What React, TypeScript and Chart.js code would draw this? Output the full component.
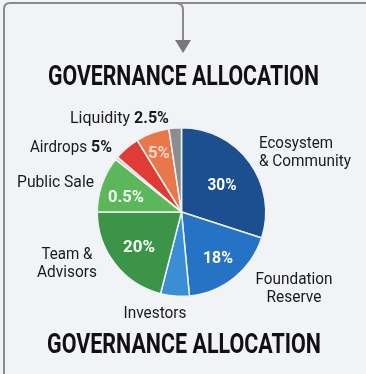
import React, { useEffect, useRef } from "react";
import { Chart, registerables } from "chart.js";

Chart.register(...registerables);

const categories = [
  "Ecosystem & Community",
  "Foundation Reserve",
  "Investors",
  "Team & Advisors",
  "Public Sale",
  "Other",
  "Airdrops",
  "Marketing",
  "Liquidity",
];
const shares = [30, 18.5, 5.5, 21, 10.7, 0.6, 4.9, 6.4, 2.4];
const sliceColors = [
  "#1b4f8f",
  "#2672c5",
  "#3a8fd4",
  "#3b9447",
  "#5bb75a",
  "#f2c7bd",
  "#e03b35",
  "#e8784a",
  "#8d8d8d",
];
const titleText = "GOVERNANCE ALLOCATION";

// outer labels: [regular part, bold part]
const outerLabels = [
  { parts: [["Liquidity", 60], ["2.5%", 35]], x: 70, y: 123, align: "left" },
  { parts: [["Airdrops", 57], ["5%", 21]], x: 30, y: 152, align: "left" },
  { parts: [["Ecosystem", 74]], x: 259, y: 148, align: "left" },
  { parts: [["& Community", 92]], x: 259, y: 166, align: "left" },
  { parts: [["Public Sale", 77]], x: 17, y: 187, align: "left" },
  { parts: [["Team &", 51]], x: 67, y: 259, align: "center" },
  { parts: [["Advisors", 60]], x: 67, y: 277, align: "center" },
  { parts: [["Foundation", 77]], x: 294, y: 284, align: "center" },
  { parts: [["Reserve", 55]], x: 294, y: 302, align: "center" },
  { parts: [["Investors", 63]], x: 155, y: 318, align: "center" },
];
const innerLabels = [
  { text: "30%", w: 29, x: 222, y: 190, color: "#ffffff" },
  { text: "18%", w: 30, x: 218, y: 263, color: "#ffffff" },
  { text: "20%", w: 32, x: 139, y: 252, color: "#f4fff4" },
  { text: "0.5%", w: 36, x: 126, y: 202, color: "#f4fff4" },
  { text: "5%", w: 22, x: 159, y: 158, color: "rgba(255,235,225,0.85)" },
];

function fitText(ctx: CanvasRenderingContext2D, text: string, x: number, y: number, font: string, w: number, align: string, color: string) {
  ctx.save();
  ctx.font = font;
  ctx.fillStyle = color;
  ctx.textBaseline = "alphabetic";
  ctx.textAlign = "left";
  const mw = ctx.measureText(text).width;
  const s = w / mw;
  let left = x;
  if (align === "center") left = x - w / 2;
  ctx.translate(left, y);
  ctx.scale(s, 1);
  ctx.fillText(text, 0, 0);
  ctx.restore();
}

const framePlugin = {
  id: "frame",
  beforeDraw(chart: any) {
    const ctx = chart.ctx as CanvasRenderingContext2D;
    ctx.save();
    ctx.fillStyle = "#f1f3f6";
    ctx.fillRect(0, 0, chart.width, chart.height);
    ctx.strokeStyle = "#8a8a8a";
    ctx.lineWidth = 2;
    ctx.beginPath();
    ctx.moveTo(4, chart.height);
    ctx.lineTo(4, 9);
    ctx.quadraticCurveTo(4, 3, 10, 3);
    ctx.lineTo(chart.width, 3);
    ctx.stroke();
    ctx.beginPath();
    ctx.moveTo(176, 3);
    ctx.quadraticCurveTo(183, 3, 183, 10);
    ctx.lineTo(183, 42);
    ctx.stroke();
    ctx.fillStyle = "#787878";
    ctx.beginPath();
    ctx.moveTo(175, 40);
    ctx.lineTo(191, 40);
    ctx.lineTo(183, 53);
    ctx.closePath();
    ctx.fill();
    ctx.restore();
  },
  afterDraw(chart: any) {
    const ctx = chart.ctx as CanvasRenderingContext2D;
    const tf = "bold 28px Roboto";
    fitText(ctx, titleText, 48, 85, tf, 271, "left", "#111111");
    fitText(ctx, titleText, 47, 353, tf, 274, "left", "#111111");
    for (const l of outerLabels) {
      let total = 0;
      l.parts.forEach((p: any, i: number) => { total += p[1] + (i > 0 ? 4 : 0); });
      let x = l.align === "center" ? l.x - total / 2 : l.x;
      l.parts.forEach((p: any, i: number) => {
        if (i > 0) x += 4;
        const font = i === 0 ? "17px Roboto" : "bold 17px Roboto";
        fitText(ctx, p[0], x, l.y, font, p[1], "left", "#1a1a1a");
        x += p[1];
      });
    }
    for (const l of innerLabels) {
      fitText(ctx, l.text, l.x, l.y, "bold 17px Roboto", l.w, "center", l.color);
    }
  },
};

export default function App() {
  const ref = useRef<HTMLCanvasElement>(null);
  useEffect(() => {
    if (!ref.current) return;
    const chart = new Chart(ref.current, {
      type: "pie",
      data: {
        labels: categories,
        datasets: [
          {
            data: shares,
            backgroundColor: sliceColors,
            borderColor: "#eef3f4",
            borderWidth: 1.5,
          },
        ],
      },
      options: {
        responsive: false,
        animation: false,
        layout: { padding: { left: 96, right: 99, top: 127, bottom: 77 } },
        plugins: {
          legend: { display: false },
          tooltip: { enabled: false },
          title: { display: false },
        },
      },
      plugins: [framePlugin],
    });
    return () => chart.destroy();
  }, []);
  return (
    <div style={{ position: "fixed", left: 0, top: 0, width: 366, height: 374 }}>
      <canvas ref={ref} width={366} height={374} style={{ width: 366, height: 374, display: "block" }} />
    </div>
  );
}
